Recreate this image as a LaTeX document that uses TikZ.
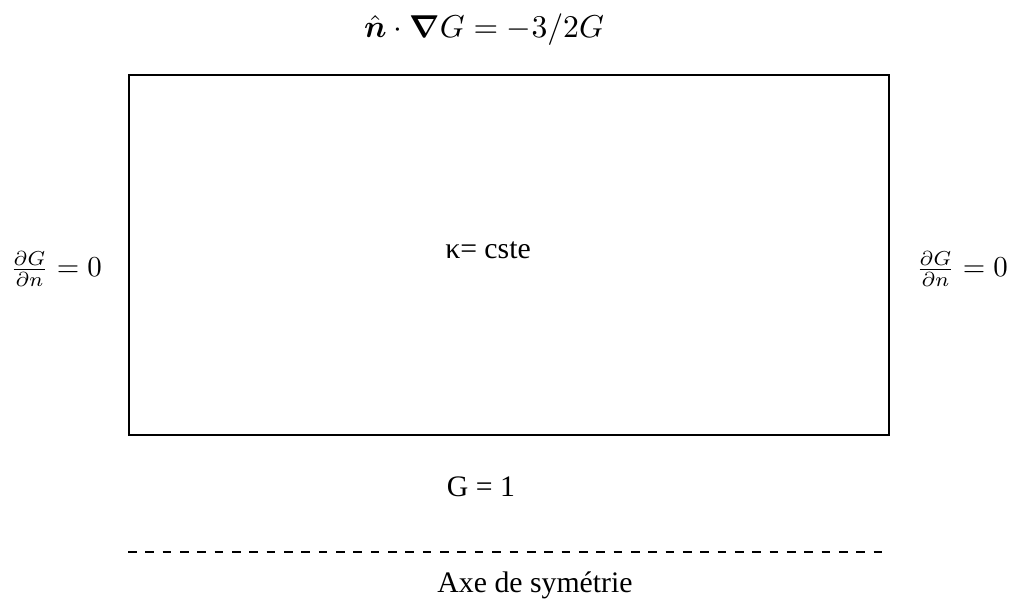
\documentclass[tikz,border=0pt]{standalone}
\usepackage{fontspec}
\setmainfont{Liberation Serif}
\usepackage{amsmath}
\usepackage{bm}
\usetikzlibrary{positioning}

\tikzset{
  bclabel/.style={font=\fontsize{10.3}{12}\selectfont},
  wall/.style={line width=0.7pt}
}

\begin{document}
\begin{tikzpicture}[x=0.01216cm,y=0.01216cm]
  \useasboundingbox (0,0) rectangle (1020,600);

  % Domain
  \coordinate (sw) at (129,165);
  \coordinate (ne) at (889,525);
  \draw[wall] (sw) rectangle (ne);

  % Boundary conditions
  \node[bclabel, font=\fontsize{10.8}{13}\selectfont] (top) at (484,570) {$\hat{\bm{n}}\cdot\bm{\nabla}G=-3/2G$};
  \node[bclabel] (left) at (56,331) {$\frac{\partial G}{\partial n}=0$};
  \node[bclabel] (right) at (962,331) {$\frac{\partial G}{\partial n}=0$};
  \node[bclabel] (bottom) at (481,113) {G = 1};

  % Inside
  \node[bclabel] (kappa) at (488,350) {κ= cste};

  % Symmetry axis
  \coordinate (axl) at (128,48);
  \coordinate (axr) at (886,48);
  \draw[dashed, line width=0.6pt] (axl) -- (axr);
  \node[bclabel] (axis) at (535,15) {Axe de symétrie};
\end{tikzpicture}
\end{document}
